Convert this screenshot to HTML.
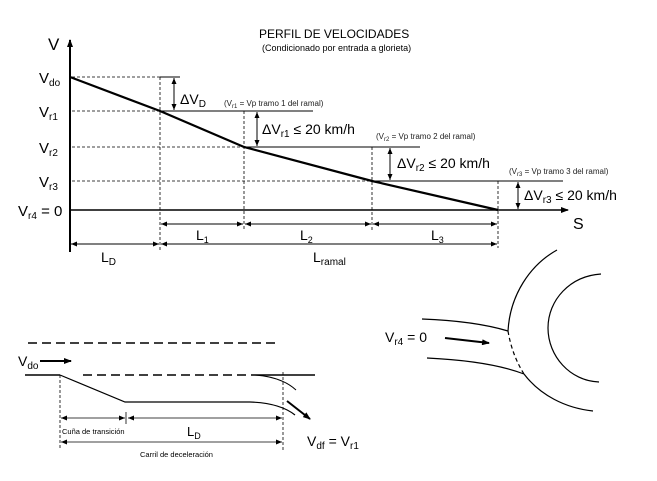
<!DOCTYPE html>
<html><head><style>body{margin:0;background:#fff}svg{display:block}</style></head><body>
<svg width="657" height="481" viewBox="0 0 657 481" xmlns="http://www.w3.org/2000/svg" font-family="Liberation Sans, sans-serif">
<defs>
<marker id="a" markerWidth="8" markerHeight="6" refX="7" refY="3" orient="auto-start-reverse" markerUnits="userSpaceOnUse"><path d="M0,0 L8,3 L0,6z" fill="#000"/></marker>
<marker id="s" markerWidth="6" markerHeight="5" refX="6" refY="2.5" orient="auto-start-reverse" markerUnits="userSpaceOnUse"><path d="M0,0 L6,2.5 L0,5z" fill="#000"/></marker>
</defs>
<text x="259" y="38" font-size="12">PERFIL DE VELOCIDADES</text>
<text x="262" y="51" font-size="9">(Condicionado por entrada a glorieta)</text>
<line x1="70" y1="252" x2="70" y2="40" stroke="#000" stroke-width="2" marker-end="url(#a)"/>
<line x1="70" y1="210" x2="568" y2="210" stroke="#000" stroke-width="1.5" marker-end="url(#a)"/>
<text x="48" y="50" font-size="17">V</text>
<text x="573" y="229" font-size="16">S</text>
<g font-size="15">
<text x="39" y="83">V<tspan font-size="10" dy="3">do</tspan></text>
<text x="39" y="117">V<tspan font-size="10" dy="3">r1</tspan></text>
<text x="39" y="153">V<tspan font-size="10" dy="3">r2</tspan></text>
<text x="39" y="187">V<tspan font-size="10" dy="3">r3</tspan></text>
<text x="18" y="216">V<tspan font-size="10" dy="3">r4</tspan><tspan dy="-3"> = 0</tspan></text>
</g>
<g stroke="#000" stroke-width="0.8" stroke-dasharray="3,2">
<line x1="72" y1="77" x2="160" y2="77"/><line x1="72" y1="111" x2="160" y2="111"/>
<line x1="72" y1="147" x2="244" y2="147"/><line x1="72" y1="181" x2="372" y2="181"/>
<line x1="160" y1="77" x2="160" y2="252"/><line x1="244" y1="111" x2="244" y2="230"/>
<line x1="372" y1="147" x2="372" y2="230"/><line x1="498" y1="181" x2="498" y2="248"/>
</g>
<polyline points="70,77 160,111 244,147 372,181 498,210" fill="none" stroke="#000" stroke-width="2.2"/>
<g stroke="#000" stroke-width="1">
<line x1="160" y1="77" x2="180" y2="77"/><line x1="160" y1="111" x2="313" y2="111"/>
<line x1="244" y1="147" x2="420" y2="147"/><line x1="372" y1="181" x2="563" y2="181"/>
<line x1="174" y1="78" x2="174" y2="110" marker-start="url(#s)" marker-end="url(#s)"/>
<line x1="257" y1="112" x2="257" y2="146" marker-start="url(#s)" marker-end="url(#s)"/>
<line x1="390" y1="148" x2="390" y2="180" marker-start="url(#s)" marker-end="url(#s)"/>
<line x1="518" y1="182" x2="518" y2="209" marker-start="url(#s)" marker-end="url(#s)"/>
<line x1="161" y1="224" x2="243" y2="224" marker-start="url(#s)" marker-end="url(#s)"/>
<line x1="245" y1="224" x2="371" y2="224" marker-start="url(#s)" marker-end="url(#s)"/>
<line x1="373" y1="224" x2="497" y2="224" marker-start="url(#s)" marker-end="url(#s)"/>
<line x1="71" y1="244" x2="159" y2="244" marker-start="url(#s)" marker-end="url(#s)"/>
<line x1="161" y1="244" x2="497" y2="244" marker-start="url(#s)" marker-end="url(#s)"/>
</g>
<g font-size="14">
<text x="180" y="104">ΔV<tspan font-size="10" dy="3">D</tspan></text>
<text x="262" y="134">ΔV<tspan font-size="10" dy="3">r1</tspan><tspan dy="-3"> ≤ 20 km/h</tspan></text>
<text x="397" y="168">ΔV<tspan font-size="10" dy="3">r2</tspan><tspan dy="-3"> ≤ 20 km/h</tspan></text>
<text x="524" y="200">ΔV<tspan font-size="10" dy="3">r3</tspan><tspan dy="-3"> ≤ 20 km/h</tspan></text>
</g>
<g font-size="8" fill="#222">
<text x="224" y="106">(V<tspan font-size="6" dy="2">r1</tspan><tspan dy="-2"> =  Vp tramo 1 del ramal)</tspan></text>
<text x="376" y="139">(V<tspan font-size="6" dy="2">r2</tspan><tspan dy="-2"> =  Vp tramo 2 del ramal)</tspan></text>
<text x="509" y="174">(V<tspan font-size="6" dy="2">r3</tspan><tspan dy="-2"> =  Vp tramo 3 del ramal)</tspan></text>
</g>
<g font-size="14">
<text x="196" y="240">L<tspan font-size="9" dy="3">1</tspan></text>
<text x="300" y="240">L<tspan font-size="9" dy="3">2</tspan></text>
<text x="431" y="240">L<tspan font-size="9" dy="3">3</tspan></text>
<text x="101" y="262">L<tspan font-size="10" dy="3">D</tspan></text>
<text x="313" y="262">L<tspan font-size="10" dy="3">ramal</tspan></text>
</g>
<line x1="28" y1="343" x2="275" y2="343" stroke="#000" stroke-width="1.5" stroke-dasharray="9,5"/>
<text x="18" y="366" font-size="14">V<tspan font-size="10" dy="3">do</tspan></text>
<line x1="40" y1="361" x2="71" y2="361" stroke="#000" stroke-width="2" marker-end="url(#a)"/>
<line x1="25" y1="375" x2="60" y2="375" stroke="#000" stroke-width="1.5"/>
<line x1="83" y1="375" x2="255" y2="375" stroke="#000" stroke-width="1.5" stroke-dasharray="9,5"/>
<line x1="255" y1="375" x2="315" y2="375" stroke="#000" stroke-width="1.5"/>
<path d="M60,375 L125,402 L250,402 Q280,403 295,415" fill="none" stroke="#000" stroke-width="1.2"/>
<path d="M255,375 Q282,377 296,390" fill="none" stroke="#000" stroke-width="1"/>
<g stroke="#000" stroke-width="0.8" stroke-dasharray="3,2">
<line x1="60" y1="375" x2="60" y2="448"/><line x1="283" y1="372" x2="283" y2="450"/>
</g>
<line x1="126" y1="412" x2="126" y2="424" stroke="#000" stroke-width="0.8"/>
<g stroke="#000" stroke-width="0.8">
<line x1="61" y1="418" x2="125" y2="418" marker-start="url(#s)" marker-end="url(#s)"/>
<line x1="128" y1="418" x2="282" y2="418" marker-start="url(#s)" marker-end="url(#s)"/>
<line x1="61" y1="442" x2="282" y2="442" marker-start="url(#s)" marker-end="url(#s)"/>
</g>
<text x="62" y="434" font-size="7.5">Cuña de transición</text>
<text x="187" y="436" font-size="13">L<tspan font-size="9" dy="3">D</tspan></text>
<text x="140" y="457" font-size="7.5">Carril de deceleración</text>
<line x1="287" y1="401" x2="310" y2="419" stroke="#000" stroke-width="2" marker-end="url(#a)"/>
<text x="307" y="446" font-size="14">V<tspan font-size="10" dy="3">df</tspan><tspan dy="-3"> = V</tspan><tspan font-size="10" dy="3">r1</tspan></text>
<g fill="none" stroke="#000" stroke-width="1.2">
<path d="M557,250 C530,265 510,295 508,331"/>
<path d="M524,374 C540,395 565,408 593,411"/>
<path d="M601,274 C570,276 548,300 548,328 C548,356 570,381 599,382"/>
<path d="M422,319 Q475,321 508,331"/>
<path d="M427,358 Q490,361 524,374"/>
<path d="M508,331 Q512,355 524,374" stroke-dasharray="4,3"/>
</g>
<line x1="445" y1="338" x2="489" y2="343" stroke="#000" stroke-width="2" marker-end="url(#a)"/>
<text x="385" y="342" font-size="14">V<tspan font-size="10" dy="3">r4</tspan><tspan dy="-3"> = 0</tspan></text>
</svg>
</body></html>
